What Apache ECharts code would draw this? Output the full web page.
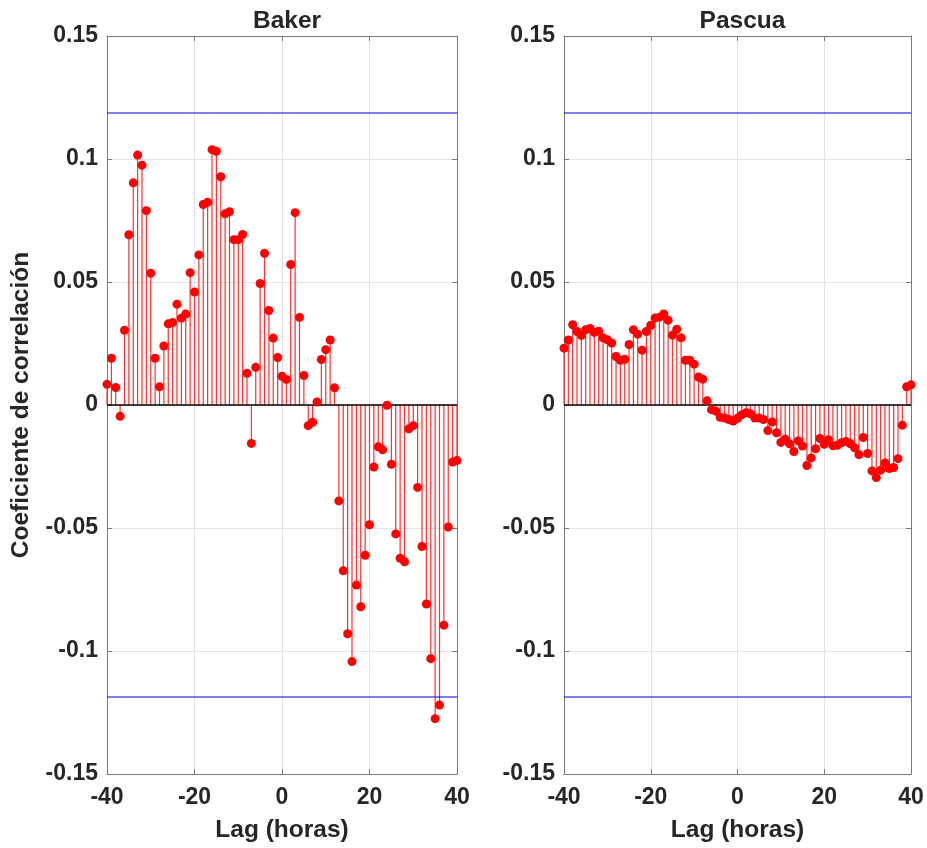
<!DOCTYPE html>
<html>
<head>
<meta charset="utf-8">
<style>
  html, body { margin: 0; padding: 0; background: #ffffff; }
  #chart { width: 927px; height: 848px; }
</style>
<script src="https://cdn.jsdelivr.net/npm/echarts@6/dist/echarts.min.js"></script>
</head>
<body>
<div id="chart"></div>
<script>
// Cross-correlation by lag (hours) for two stations
const lags = [
  -40, -39, -38, -37, -36, -35, -34, -33, -32, -31,
  -30, -29, -28, -27, -26, -25, -24, -23, -22, -21,
  -20, -19, -18, -17, -16, -15, -14, -13, -12, -11,
  -10, -9, -8, -7, -6, -5, -4, -3, -2, -1,
  0, 1, 2, 3, 4, 5, 6, 7, 8, 9,
  10, 11, 12, 13, 14, 15, 16, 17, 18, 19,
  20, 21, 22, 23, 24, 25, 26, 27, 28, 29,
  30, 31, 32, 33, 34, 35, 36, 37, 38, 39, 40
];

const bakerCorr = [
  0.0084, 0.0190, 0.0071, -0.0046, 0.0304, 0.0692, 0.0903, 0.1016, 0.0975, 0.0790,
  0.0536, 0.0190, 0.0074, 0.0240, 0.0330, 0.0335, 0.0410, 0.0353, 0.0370, 0.0538,
  0.0459, 0.0610, 0.0815, 0.0824, 0.1038, 0.1031, 0.0928, 0.0777, 0.0786, 0.0672,
  0.0672, 0.0693, 0.0129, -0.0156, 0.0153, 0.0494, 0.0617, 0.0384, 0.0272, 0.0193,
  0.0117, 0.0104, 0.0571, 0.0782, 0.0356, 0.0120, -0.0084, -0.0070, 0.0012, 0.0185,
  0.0225, 0.0264, 0.0070, -0.0390, -0.0674, -0.0930, -0.1043, -0.0732, -0.0820, -0.0611,
  -0.0487, -0.0252, -0.0170, -0.0182, -0.0001, -0.0241, -0.0524, -0.0623, -0.0637, -0.0097,
  -0.0084, -0.0335, -0.0575, -0.0809, -0.1031, -0.1275, -0.1220, -0.0895, -0.0496, -0.0232, -0.0226
];

const pascuaCorr = [
  0.0231, 0.0264, 0.0326, 0.0299, 0.0283, 0.0306, 0.0311, 0.0295, 0.0300, 0.0273,
  0.0265, 0.0252, 0.0197, 0.0182, 0.0186, 0.0246, 0.0306, 0.0288, 0.0223, 0.0299,
  0.0324, 0.0354, 0.0357, 0.0370, 0.0345, 0.0284, 0.0308, 0.0273, 0.0182, 0.0182,
  0.0166, 0.0114, 0.0105, 0.0017, -0.0019, -0.0025, -0.0050, -0.0053, -0.0059, -0.0065,
  -0.0054, -0.0040, -0.0031, -0.0036, -0.0053, -0.0053, -0.0059, -0.0104, -0.0069, -0.0113,
  -0.0152, -0.0139, -0.0158, -0.0189, -0.0146, -0.0167, -0.0246, -0.0215, -0.0178, -0.0136,
  -0.0160, -0.0141, -0.0166, -0.0164, -0.0153, -0.0148, -0.0158, -0.0174, -0.0202, -0.0132,
  -0.0197, -0.0268, -0.0295, -0.0265, -0.0236, -0.0258, -0.0254, -0.0218, -0.0082, 0.0074, 0.0082
];

// Significance bound (±) drawn in blue
const confBound = 0.1187;

const panelTitles = ['Baker', 'Pascua'];
const xTicks = [-40, -20, 0, 20, 40];
const yTicks = [-0.15, -0.1, -0.05, 0, 0.05, 0.1, 0.15];

const FONT = '"Liberation Sans", Arial, sans-serif';
const TEXT = '#262626';
const AXIS = '#7a7a7a';
const TICK_SIZE = 23;
const LABEL_SIZE = 24.5;

const panels = [bakerCorr, pascuaCorr];
const grids = [
  { left: 107, top: 36, width: 350, bottom: 70 },
  { left: 564, top: 36, width: 347, bottom: 70 }
];

const xAxes = [], yAxes = [], series = [], titles = [];

panels.forEach((vals, i) => {
  const base = {
    type: 'value', gridIndex: i,
    axisLine: { show: true, onZero: false, lineStyle: { color: AXIS, width: 1 } },
    axisTick: { show: true, inside: true, length: 5, lineStyle: { color: AXIS } }
  };
  // bottom x axis with labels and grid lines
  xAxes.push(Object.assign({}, base, {
    min: xTicks[0], max: xTicks[xTicks.length - 1], interval: 20,
    position: 'bottom',
    name: 'Lag (horas)', nameLocation: 'middle', nameGap: 44,
    nameTextStyle: { fontFamily: FONT, fontWeight: 'bold', fontSize: LABEL_SIZE, color: TEXT },
    axisLabel: { fontFamily: FONT, fontWeight: 'bold', fontSize: TICK_SIZE, color: TEXT, margin: 12 },
    splitLine: { show: true, lineStyle: { color: '#e3e3e3', width: 1 } }
  }));
  // top x axis closes the box
  xAxes.push(Object.assign({}, base, {
    min: xTicks[0], max: xTicks[xTicks.length - 1], interval: 20,
    position: 'top', axisLabel: { show: false }, splitLine: { show: false }
  }));
  const yLeft = Object.assign({}, base, {
    min: yTicks[0], max: yTicks[yTicks.length - 1], interval: 0.05,
    position: 'left',
    axisLabel: {
      fontFamily: FONT, fontWeight: 'bold', fontSize: TICK_SIZE, color: TEXT, margin: 9,
      formatter: v => String(+v.toFixed(2))
    },
    splitLine: { show: true, lineStyle: { color: '#e3e3e3', width: 1 } }
  });
  if (i === 0) {
    yLeft.name = 'Coeficiente de correlación';
    yLeft.nameLocation = 'middle';
    yLeft.nameGap = 73;
    yLeft.nameTextStyle = { fontFamily: FONT, fontWeight: 'bold', fontSize: LABEL_SIZE, color: TEXT };
  }
  yAxes.push(yLeft);
  // right y axis closes the box
  yAxes.push(Object.assign({}, base, {
    min: yTicks[0], max: yTicks[yTicks.length - 1], interval: 0.05,
    position: 'right', axisLabel: { show: false }, splitLine: { show: false }
  }));

  titles.push({
    text: panelTitles[i],
    left: grids[i].left + grids[i].width / 2,
    textAlign: 'center',
    top: 4,
    textStyle: { fontFamily: FONT, fontWeight: 'bold', fontSize: LABEL_SIZE, color: TEXT }
  });

  const data = lags.map((l, k) => [l, vals[k]]);
  const xi = i * 2, yi = i * 2;

  // stems from the zero baseline to each value
  series.push({
    type: 'custom', xAxisIndex: xi, yAxisIndex: yi, z: 2,
    data: data, encode: { x: 0, y: 1 },
    renderItem: (params, api) => {
      const x = api.value(0), v = api.value(1);
      const p0 = api.coord([x, 0]);
      const p1 = api.coord([x, v]);
      return {
        type: 'line',
        shape: { x1: p0[0], y1: p0[1], x2: p1[0], y2: p1[1] },
        style: { stroke: '#ff3030', lineWidth: 1.2 }
      };
    },
    silent: true
  });
  // zero baseline
  series.push({
    type: 'line', xAxisIndex: xi, yAxisIndex: yi, z: 3,
    data: [[xTicks[0], 0], [xTicks[xTicks.length - 1], 0]],
    symbol: 'none', lineStyle: { color: '#000000', width: 1.5 }, silent: true
  });
  // confidence bounds
  [confBound, -confBound].forEach(b => {
    series.push({
      type: 'line', xAxisIndex: xi, yAxisIndex: yi, z: 3,
      data: [[xTicks[0], b], [xTicks[xTicks.length - 1], b]],
      symbol: 'none', lineStyle: { color: '#0000ff', width: 1 }, silent: true
    });
  });
  // markers at stem tips
  series.push({
    type: 'scatter', xAxisIndex: xi, yAxisIndex: yi, z: 4,
    data: data, symbol: 'circle', symbolSize: 9,
    itemStyle: { color: '#ff0000', opacity: 1 }, silent: true
  });
});

const chart = echarts.init(document.getElementById('chart'), null, { renderer: 'canvas' });
chart.setOption({
  backgroundColor: '#ffffff',
  animation: false,
  title: titles,
  grid: grids,
  xAxis: xAxes,
  yAxis: yAxes,
  series: series
});
</script>
</body>
</html>
